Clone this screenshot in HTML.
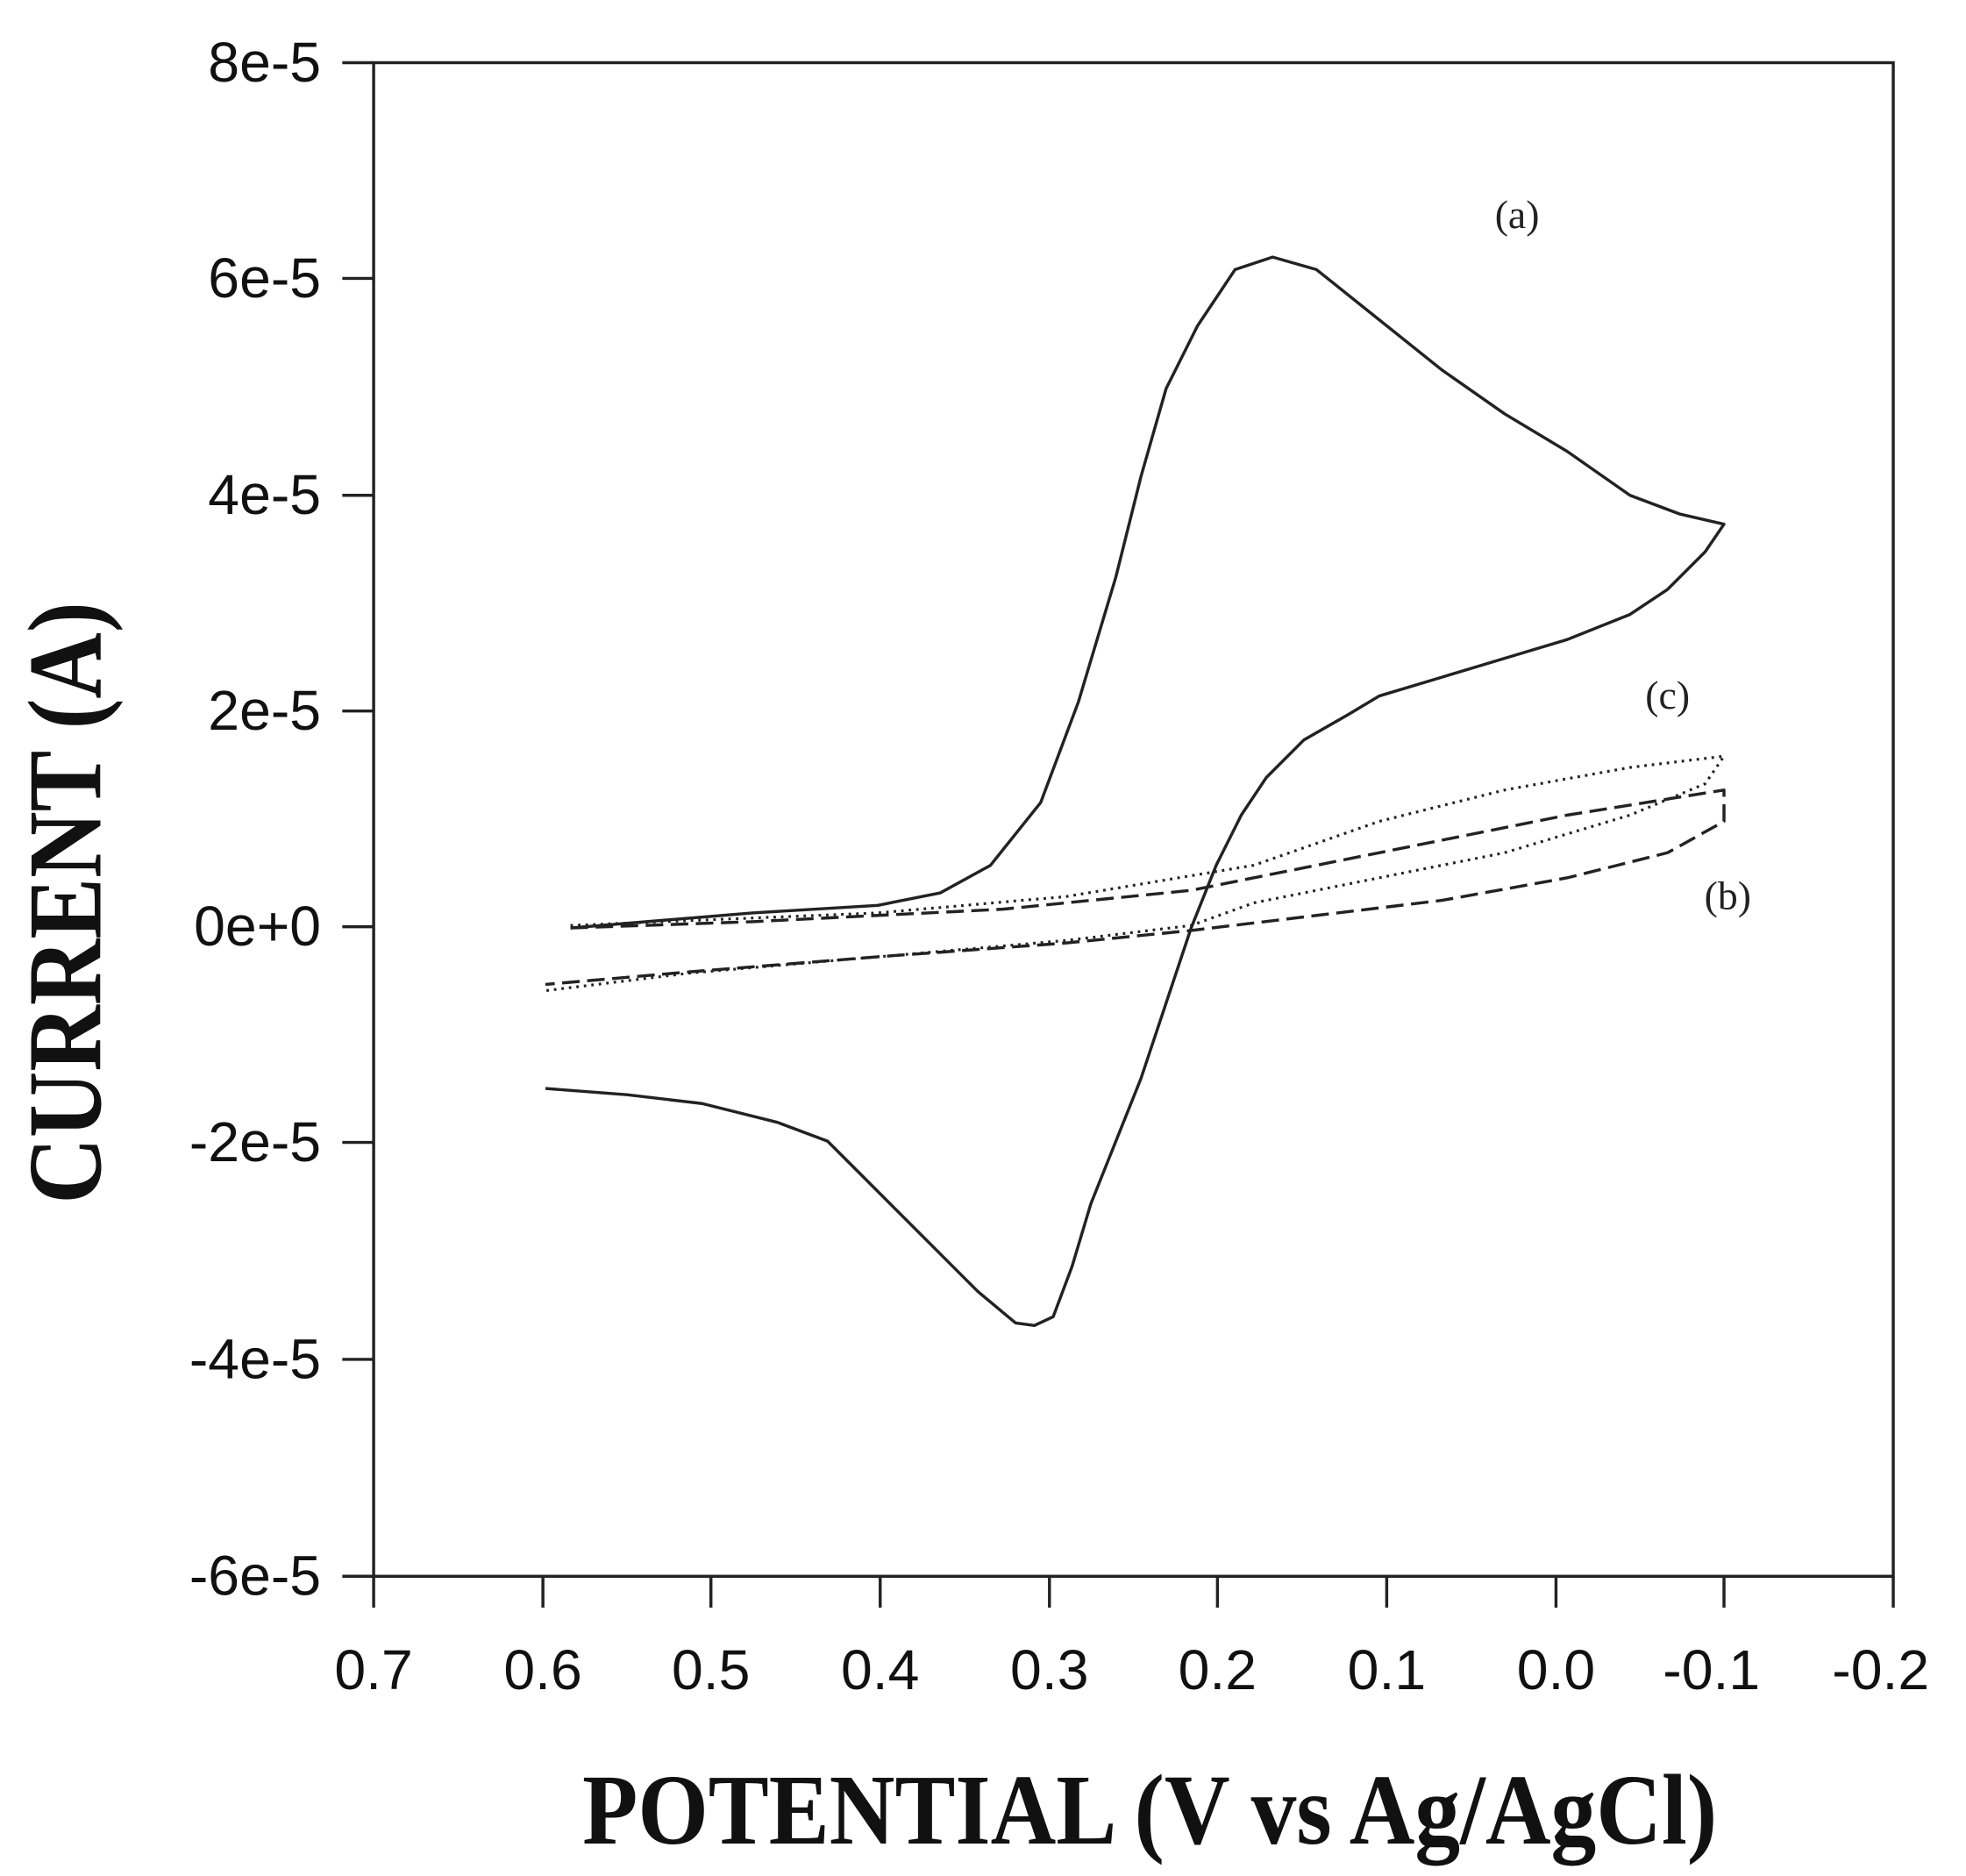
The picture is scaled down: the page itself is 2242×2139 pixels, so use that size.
<!DOCTYPE html>
<html><head><meta charset="utf-8"><style>html,body{margin:0;padding:0;background:#fff}svg{display:block}</style></head>
<body>
<svg width="2242" height="2139" viewBox="0 0 1568 1496" xmlns="http://www.w3.org/2000/svg">
<rect width="1568" height="1496" fill="#fff"/>
<g stroke="#222" stroke-width="2.4" fill="none">
<rect x="298" y="50" width="1212" height="1207"/>
<path d="M273 50H298M273 222H298M273 395H298M273 567H298M273 739H298M273 911H298M273 1084H298M273 1257H298"/>
<path d="M298 1257V1282M433 1257V1282M567 1257V1282M702 1257V1282M837 1257V1282M971 1257V1282M1106 1257V1282M1241 1257V1282M1375 1257V1282M1510 1257V1282"/>
</g>
<g font-family="Liberation Sans, sans-serif" font-size="45" fill="#111" text-anchor="end">
<text x="256" y="65">8e-5</text><text x="256" y="237">6e-5</text><text x="256" y="410">4e-5</text><text x="256" y="582">2e-5</text><text x="256" y="754">0e+0</text><text x="256" y="926">-2e-5</text><text x="256" y="1099">-4e-5</text><text x="256" y="1272">-6e-5</text>
</g>
<g font-family="Liberation Sans, sans-serif" font-size="45" fill="#111" text-anchor="middle">
<text x="298" y="1347">0.7</text><text x="433" y="1347">0.6</text><text x="567" y="1347">0.5</text><text x="702" y="1347">0.4</text><text x="837" y="1347">0.3</text><text x="971" y="1347">0.2</text><text x="1106" y="1347">0.1</text><text x="1241" y="1347">0.0</text><text x="1365" y="1347">-0.1</text><text x="1500" y="1347">-0.2</text>
</g>
<text x="917" y="1470" font-family="Liberation Serif, serif" font-weight="bold" font-size="80" text-anchor="middle" textLength="905" lengthAdjust="spacingAndGlyphs" fill="#111">POTENTIAL (V vs Ag/AgCl)</text>
<text transform="translate(80,720) rotate(-90)" font-family="Liberation Serif, serif" font-weight="bold" font-size="84" text-anchor="middle" textLength="480" lengthAdjust="spacingAndGlyphs" fill="#111">CURRENT (A)</text>
<g font-family="Liberation Serif, serif" font-size="32" fill="#222" text-anchor="middle">
<text x="1210" y="182">(a)</text><text x="1330" y="565">(c)</text><text x="1378" y="725">(b)</text>
</g>
<g fill="none" stroke="#222" stroke-linejoin="round">
<path stroke-width="2.4" d="M455 740L600 728L700 722L750 712L790 690L830 640L860 560L890 460L910 380L930 310L955 260L985 215L1015 205L1050 215L1100 255L1150 295L1200 330L1250 360L1300 395L1340 410L1375 418L1360 440L1330 470L1300 490L1250 510L1200 525L1150 540L1100 555L1075 570L1040 590L1010 620L990 650L970 690L950 740L930 800L910 860L890 910L870 960L855 1010L840 1050L825 1057L810 1055L780 1030L750 1000L720 970L690 940L660 910L620 895L560 880L500 873L435 868"/>
<path stroke-width="2.4" stroke-dasharray="14 6" d="M455 740L600 735L800 725L950 710L1050 690L1150 670L1250 650L1375 630L1375 655L1330 680L1250 700L1150 718L1050 730L950 742L850 752L700 763L550 775L435 785"/>
<path stroke-width="2.2" stroke-dasharray="2 4" d="M455 738L700 728L850 715L1000 690L1100 655L1200 630L1300 612L1375 603L1360 625L1300 650L1200 680L1100 700L1000 720L950 738L850 750L700 763L550 776L435 790"/>
</g>
</svg>
</body></html>
